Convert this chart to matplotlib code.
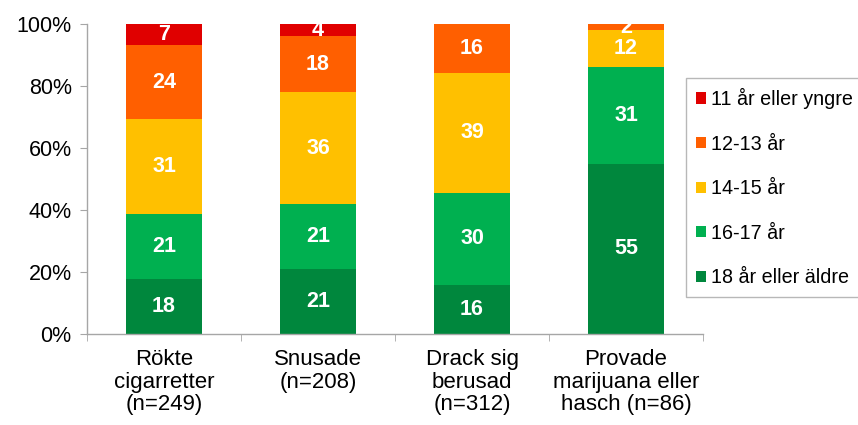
import matplotlib
matplotlib.use("Agg")
import matplotlib.pyplot as plt
from matplotlib.patches import Patch
import numpy as np

plt.rcParams['font.family'] = ['Liberation Sans', 'DejaVu Sans']

categories = ["Rökte\ncigarretter\n(n=249)", "Snusade\n(n=208)", "Drack sig\nberusad\n(n=312)",
              "Provade\nmarijuana eller\nhasch (n=86)"]
series_names = ["18 år eller äldre", "16-17 år", "14-15 år", "12-13 år", "11 år eller yngre"]
v_18plus = [18, 21, 16, 55]
v_16_17 = [21, 21, 30, 31]
v_14_15 = [31, 36, 39, 12]
v_12_13 = [24, 18, 16, 2]
v_11 = [7, 4, 0, 0]
colors = ["#00873D", "#00B050", "#FFC000", "#FF5F00", "#E00000"]

data = np.array([v_18plus, v_16_17, v_14_15, v_12_13, v_11], dtype=float)
totals = data.sum(axis=0)
frac = data / totals

fig = plt.figure(figsize=(8.58, 4.25), dpi=100)
ax = fig.add_axes([87/858, 1-334/425, (703-87)/858, (334-24)/425])

x = np.arange(len(categories))
bottom = np.zeros(len(categories))
for i in range(len(series_names)):
    ax.bar(x, frac[i], bottom=bottom, width=0.49, color=colors[i], edgecolor='none', zorder=2)
    for j in range(len(categories)):
        if data[i, j] > 0:
            ax.text(x[j], bottom[j] + frac[i, j] / 2, f"{int(data[i, j])}", ha='center', va='center',
                    color='white', fontsize=15.5, fontweight='bold', zorder=3)
    bottom += frac[i]

ax.set_xlim(-0.5, len(categories) - 0.5)
ax.set_ylim(0, 1)
ax.set_yticks(np.arange(0, 1.01, 0.2))
ax.set_yticklabels([f"{int(round(t*100))}%" for t in np.arange(0, 1.01, 0.2)], fontsize=15.5)
ax.set_xticks(x)
ax.set_xticklabels(categories, fontsize=16, linespacing=1.08)
ax.tick_params(axis='x', which='major', length=0, pad=11)
ax.set_xticks(np.arange(-0.5, len(categories), 1), minor=True)
ax.tick_params(axis='x', which='minor', length=5, color='#A6A6A6', direction='out')
ax.tick_params(axis='y', length=5, color='#A6A6A6', direction='out', pad=6, labelcolor='black')
for s in ['top', 'right']:
    ax.spines[s].set_visible(False)
for s in ['left', 'bottom']:
    ax.spines[s].set_color('#A6A6A6')
    ax.spines[s].set_linewidth(1)

handles = [Patch(facecolor=colors[i], edgecolor='none') for i in reversed(range(len(series_names)))]
labels = list(reversed(series_names))
leg = fig.legend(handles, labels, loc='upper left',
                 bbox_to_anchor=(686/858, 1-298/425, 200/858, (298-78)/425), mode='expand',
                 fontsize=14.2, frameon=True, fancybox=False, edgecolor='#A6A6A6',
                 handlelength=0.5, handleheight=0.5, handletextpad=0.25, labelspacing=1.3,
                 borderpad=0.5, borderaxespad=0)
leg.get_frame().set_linewidth(1)

fig.savefig("out.png", dpi=100)
